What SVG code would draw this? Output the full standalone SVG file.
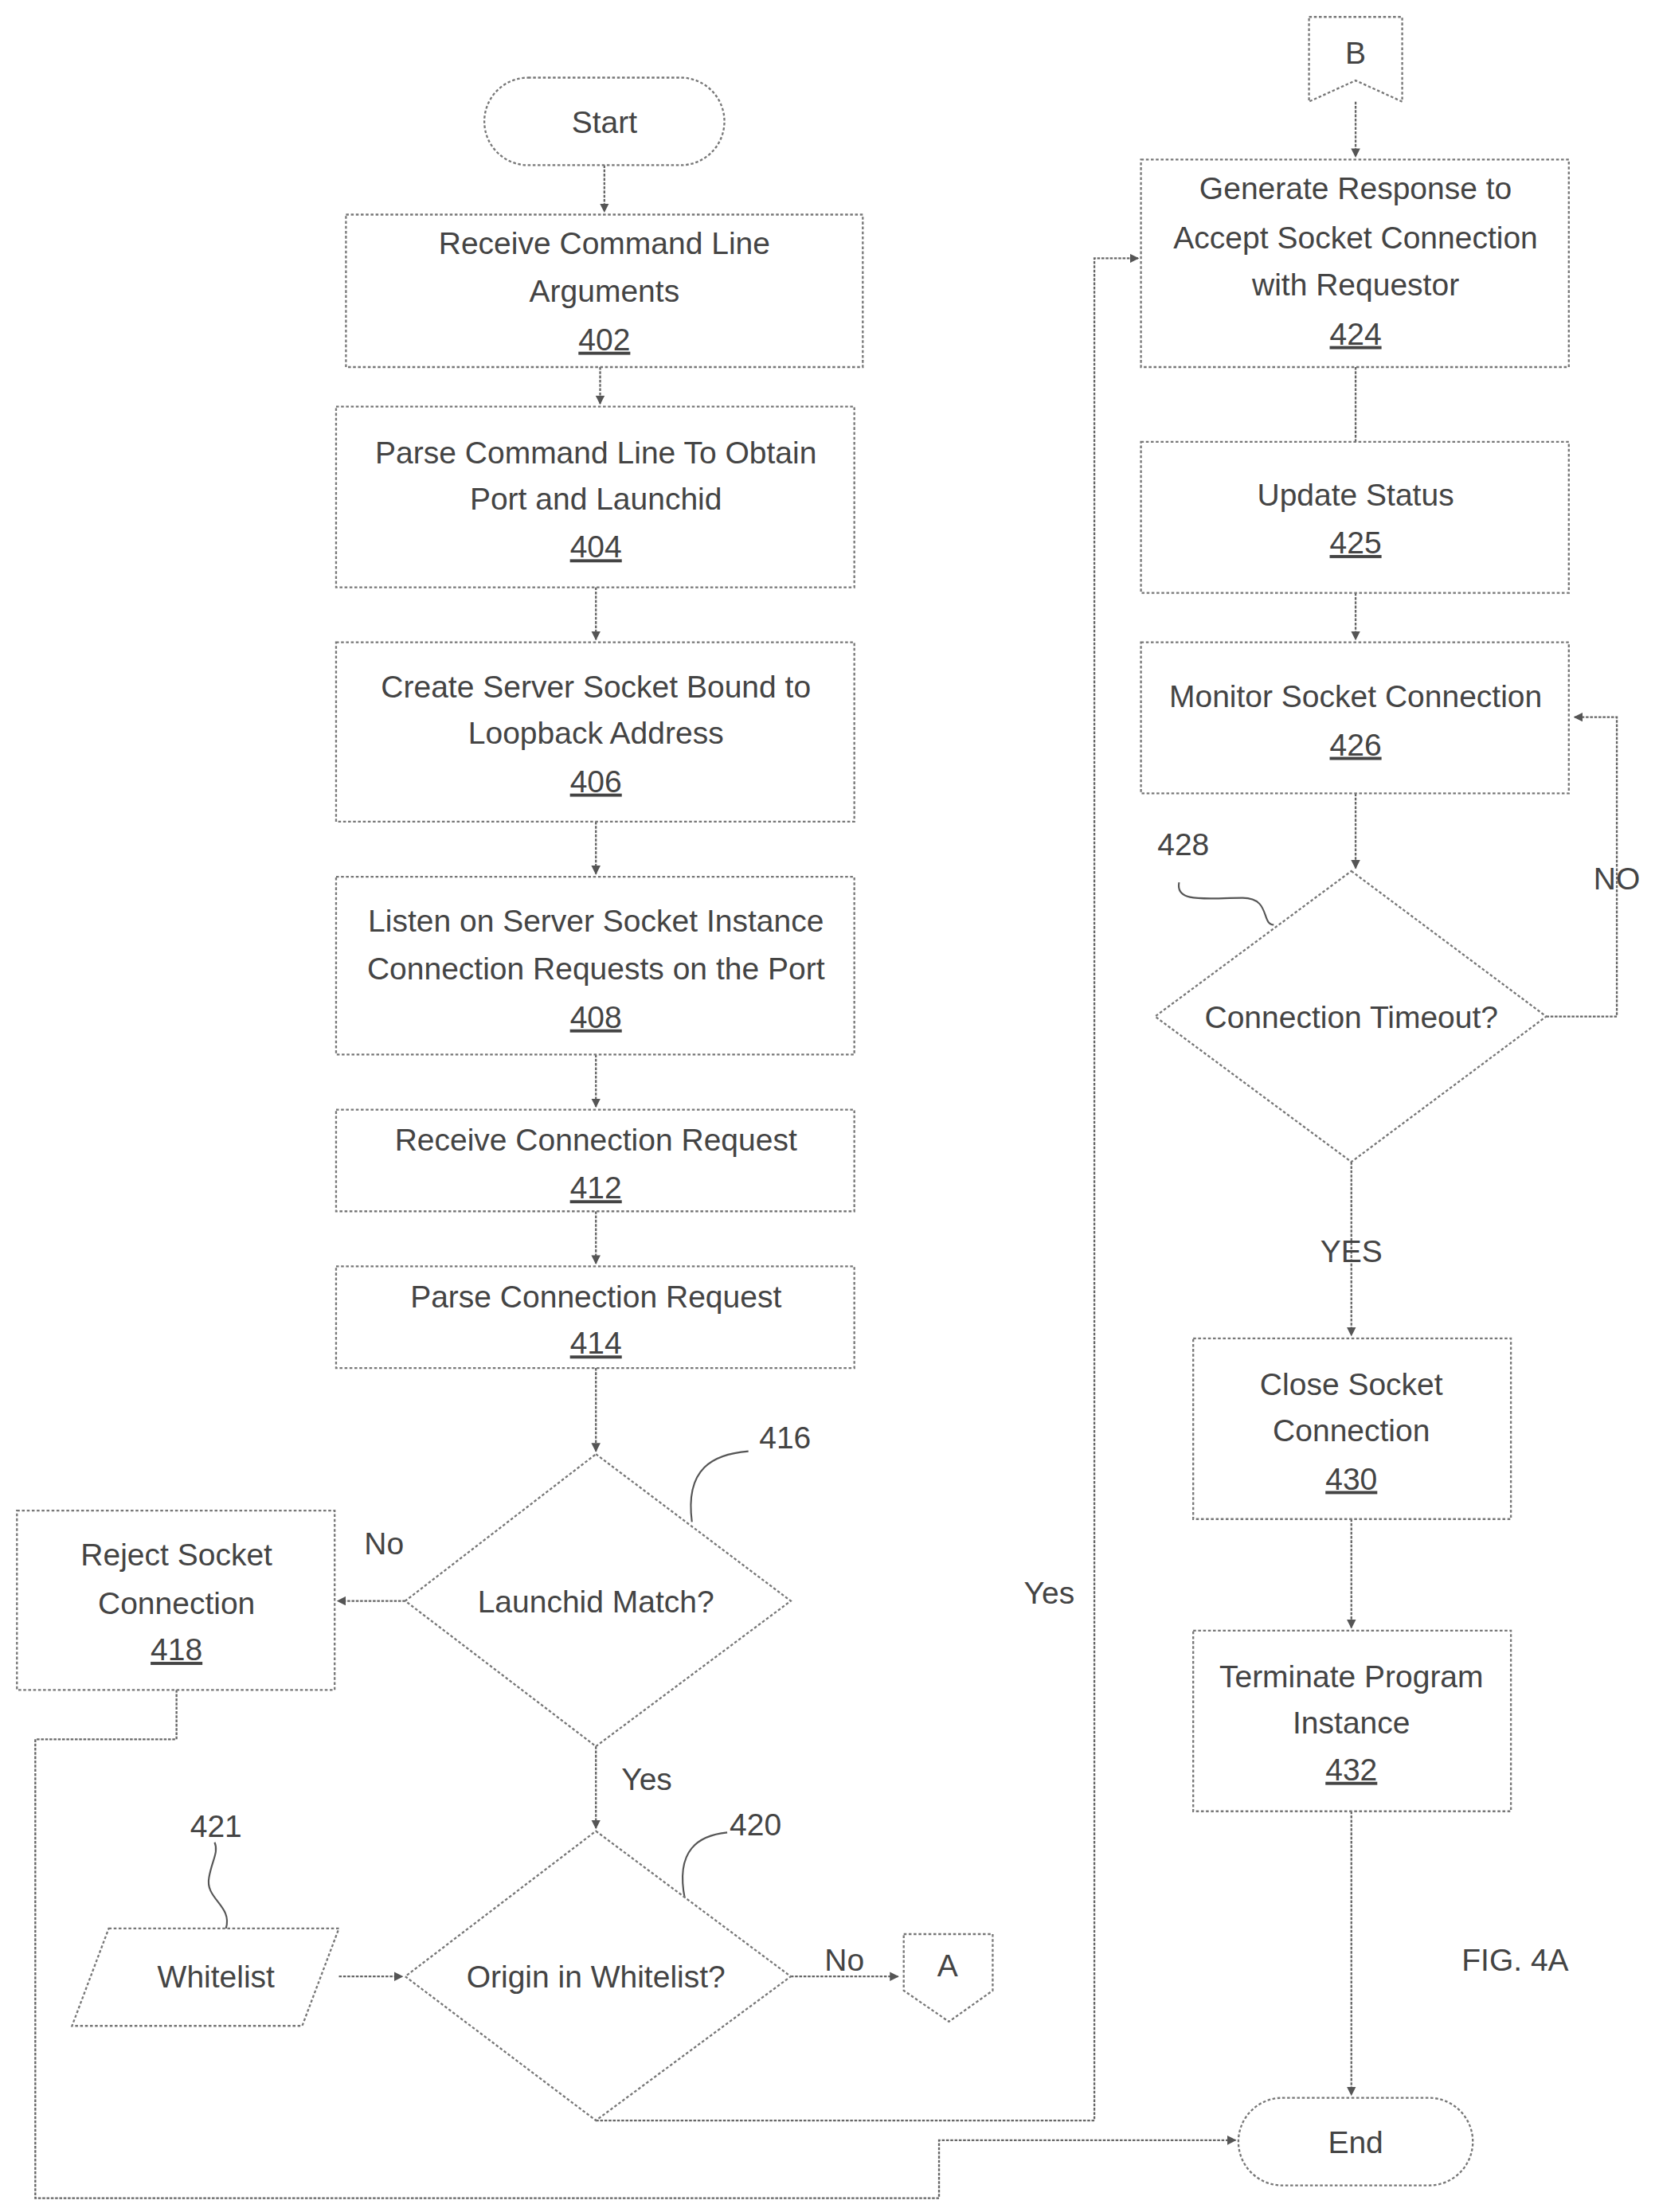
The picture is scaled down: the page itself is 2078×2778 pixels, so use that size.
<svg xmlns="http://www.w3.org/2000/svg" width="2078" height="2778" viewBox="0 0 2078 2778">
<style>
.b{fill:#fff;stroke:#777;stroke-width:1.3;stroke-dasharray:2 1.5}
.c{fill:none;stroke:#666;stroke-width:1.3;stroke-dasharray:2 1}
.s{fill:none;stroke:#555;stroke-width:1.2}
text{font-family:"Liberation Sans",Arial,sans-serif;font-size:22px;fill:#444;text-anchor:middle}
.u{text-decoration:underline}
</style>
<defs><marker id="a" viewBox="0 0 10 10" refX="9" refY="5" markerWidth="5" markerHeight="5" orient="auto"><path d="M0,0L10,5L0,10z" fill="#555"/></marker></defs>
<rect width="2078" height="2778" fill="#fff"/>
<g transform="scale(1.773)">
<g id="connectors">
<path class="c" d="M428,117V150" marker-end="url(#a)"/>
<path class="c" d="M425,260V286" marker-end="url(#a)"/>
<path class="c" d="M422,416V453" marker-end="url(#a)"/>
<path class="c" d="M422,582V619" marker-end="url(#a)"/>
<path class="c" d="M422,747V784" marker-end="url(#a)"/>
<path class="c" d="M422,858V895" marker-end="url(#a)"/>
<path class="c" d="M422,969V1028" marker-end="url(#a)"/>
<path class="c" d="M287,1134H239" marker-end="url(#a)"/>
<path class="c" d="M422,1237V1295" marker-end="url(#a)"/>
<path class="c" d="M240,1400H285" marker-end="url(#a)"/>
<path class="c" d="M560,1400H636" marker-end="url(#a)"/>
<path class="c" d="M422,1502H775V183H806" marker-end="url(#a)"/>
<path class="c" d="M125,1197V1232H25V1557H665V1516H875" marker-end="url(#a)"/>
<path class="c" d="M960,72V111" marker-end="url(#a)"/>
<path class="c" d="M960,260V313"/>
<path class="c" d="M960,420V453" marker-end="url(#a)"/>
<path class="c" d="M960,562V615" marker-end="url(#a)"/>
<path class="c" d="M1095,720H1145V508H1115" marker-end="url(#a)"/>
<path class="c" d="M957,823V946" marker-end="url(#a)"/>
<path class="c" d="M957,1076V1153" marker-end="url(#a)"/>
<path class="c" d="M957,1283V1484" marker-end="url(#a)"/>
<path class="s" d="M490,1078C485,1040 505,1030 530,1028"/>
<path class="s" d="M485,1345C478,1310 495,1300 515,1298"/>
<path class="s" d="M160,1366C165,1350 145,1345 148,1330C150,1318 155,1312 152,1305"/>
<path class="s" d="M835,625C832,640 855,636 880,636C900,636 893,655 902,655"/>
</g>
<g id="start"><rect class="b" x="343" y="55" width="170" height="62" rx="31"/><text x="428" y="94">Start</text></g>
<g id="n402"><rect class="b" x="245" y="152" width="366" height="108"/><text x="428" y="180">Receive Command Line</text><text x="428" y="214">Arguments</text><text x="428" y="248" class="u">402</text></g>
<g id="n404"><rect class="b" x="238" y="288" width="367" height="128"/><text x="422" y="328">Parse Command Line To Obtain</text><text x="422" y="361">Port and Launchid</text><text x="422" y="395" class="u">404</text></g>
<g id="n406"><rect class="b" x="238" y="455" width="367" height="127"/><text x="422" y="494">Create Server Socket Bound to</text><text x="422" y="527">Loopback Address</text><text x="422" y="561" class="u">406</text></g>
<g id="n408"><rect class="b" x="238" y="621" width="367" height="126"/><text x="422" y="660">Listen on Server Socket Instance</text><text x="422" y="694">Connection Requests on the Port</text><text x="422" y="728" class="u">408</text></g>
<g id="n412"><rect class="b" x="238" y="786" width="367" height="72"/><text x="422" y="815">Receive Connection Request</text><text x="422" y="849" class="u">412</text></g>
<g id="n414"><rect class="b" x="238" y="897" width="367" height="72"/><text x="422" y="926">Parse Connection Request</text><text x="422" y="959" class="u">414</text></g>
<g id="n416"><path class="b" d="M422,1030L560,1134L422,1237L287,1134Z"/><text x="422" y="1142">Launchid Match?</text><text x="556" y="1026">416</text></g>
<g id="n418"><rect class="b" x="12" y="1070" width="225" height="127"/><text x="125" y="1109">Reject Socket</text><text x="125" y="1143">Connection</text><text x="125" y="1176" class="u">418</text></g>
<g id="n420"><path class="b" d="M422,1297L560,1400L422,1502L287,1400Z"/><text x="422" y="1408">Origin in Whitelist?</text><text x="535" y="1300">420</text></g>
<g id="n421"><path class="b" d="M77,1366H240L214,1435H51Z"/><text x="153" y="1408">Whitelist</text><text x="153" y="1301">421</text></g>
<g id="offA"><path class="b" d="M640,1370H703V1410L672,1432L640,1410Z"/><text x="671" y="1400">A</text></g>
<g id="offB"><path class="b" d="M927,12H993V72L960,57L927,72Z"/><text x="960" y="45">B</text></g>
<g id="n424"><rect class="b" x="808" y="113" width="303" height="147"/><text x="960" y="141">Generate Response to</text><text x="960" y="176">Accept Socket Connection</text><text x="960" y="209">with Requestor</text><text x="960" y="244" class="u">424</text></g>
<g id="n425"><rect class="b" x="808" y="313" width="303" height="107"/><text x="960" y="358">Update Status</text><text x="960" y="392" class="u">425</text></g>
<g id="n426"><rect class="b" x="808" y="455" width="303" height="107"/><text x="960" y="501">Monitor Socket Connection</text><text x="960" y="535" class="u">426</text></g>
<g id="n428"><path class="b" d="M957,617L1095,720L957,823L818,720Z"/><text x="957" y="728">Connection Timeout?</text><text x="838" y="606">428</text></g>
<g id="n430"><rect class="b" x="845" y="948" width="225" height="128"/><text x="957" y="988">Close Socket</text><text x="957" y="1021">Connection</text><text x="957" y="1055" class="u">430</text></g>
<g id="n432"><rect class="b" x="845" y="1155" width="225" height="128"/><text x="957" y="1195">Terminate Program</text><text x="957" y="1228">Instance</text><text x="957" y="1261" class="u">432</text></g>
<g id="end"><rect class="b" x="877" y="1486" width="166" height="62" rx="31"/><text x="960" y="1525">End</text></g>
<g id="labels">
<text x="272" y="1101">No</text>
<text x="458" y="1268">Yes</text>
<text x="598" y="1396">No</text>
<text x="743" y="1136">Yes</text>
<text x="1145" y="630">NO</text>
<text x="957" y="894">YES</text>
<text x="1073" y="1396">FIG. 4A</text>
</g>
</g>
</svg>
